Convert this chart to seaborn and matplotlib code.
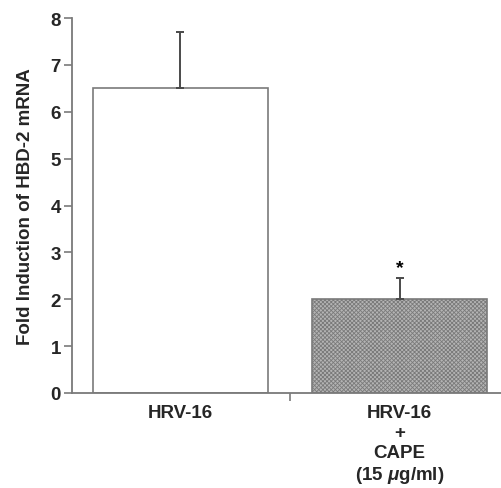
import matplotlib
matplotlib.use("Agg")
import matplotlib.pyplot as plt
import seaborn as sns
import pandas as pd

# Fold induction of HBD-2 mRNA
conditions = ["HRV-16", "HRV-16\n+\nCAPE\n(15 $\\mathit{\\mu}$g/ml)"]
fold_induction = [6.5, 2.0]
sem_upper = [1.2, 0.45]
significance = ["", "*"]

y_ticks = [0, 1, 2, 3, 4, 5, 6, 7, 8]

sns.set_theme(style="ticks")
plt.rcParams["font.family"] = ["Liberation Sans", "DejaVu Sans"]
plt.rcParams["font.weight"] = "bold"
plt.rcParams["mathtext.fontset"] = "custom"
plt.rcParams["mathtext.rm"] = "Liberation Sans:bold"
plt.rcParams["mathtext.it"] = "Liberation Sans:italic:bold"
plt.rcParams["hatch.linewidth"] = 0.6
plt.rcParams["hatch.color"] = "#555555"

df = pd.DataFrame({"condition": conditions, "fold": fold_induction})

fig = plt.figure(figsize=(5.02, 4.89), dpi=100)
ax = fig.add_axes([72 / 502, 95 / 489, 429 / 502, 375 / 489])

sns.barplot(data=df, x="condition", y="fold", ax=ax, width=0.8,
            errorbar=None, order=conditions)

axis_gray = "#7a7a7a"
face_colors = ["white", "#b4b4b4"]
for patch, fc, h in zip(ax.patches, face_colors, [None, "xxxxxxxx"]):
    patch.set_facecolor(fc)
    patch.set_edgecolor(axis_gray)
    patch.set_linewidth(1.2)
    if h:
        patch.set_hatch(h)

xs = list(range(len(conditions)))
ax.errorbar(xs, fold_induction, yerr=[[0] * len(xs), sem_upper], fmt="none",
            ecolor="#4a4a4a", elinewidth=1.4, capsize=3, capthick=1.4, zorder=3)

for x, y, e, s in zip(xs, fold_induction, sem_upper, significance):
    if s:
        ax.text(x, y + e + 0.04, s, ha="center", va="bottom",
                fontsize=14, fontweight="bold", color="black")

fs = 13.5
ax.set_ylim(0, 8)
ax.set_yticks(y_ticks)
ax.set_xlim(-0.495, 1.463)
ax.set_xticks([0.5], minor=True)
ax.set_xticks(xs)
ax.set_xticklabels(conditions, fontsize=fs, fontweight="bold",
                   linespacing=1.22)
ax.tick_params(axis="x", which="major", length=0, pad=8)
ax.tick_params(axis="x", which="minor", length=6, width=1.2, color=axis_gray)
ax.tick_params(axis="y", length=6, width=1.2, color=axis_gray, labelsize=fs, pad=2)
for lbl in ax.get_yticklabels():
    lbl.set_fontweight("bold")

ax.set_xlabel("")
ax.set_ylabel("Fold Induction of HBD-2 mRNA", fontsize=fs, fontweight="bold",
              labelpad=12)

for side in ["top", "right"]:
    ax.spines[side].set_visible(False)
for side in ["left", "bottom"]:
    ax.spines[side].set_color(axis_gray)
    ax.spines[side].set_linewidth(1.3)

fig.savefig("out.png", dpi=100)
